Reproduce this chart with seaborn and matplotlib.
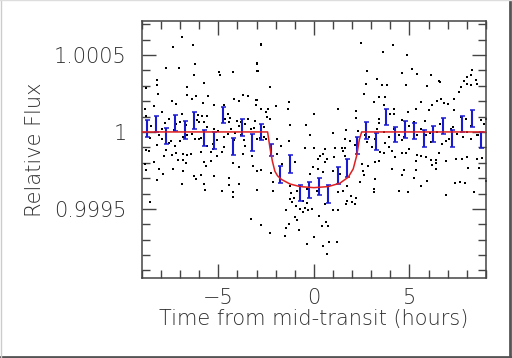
import matplotlib
matplotlib.use("Agg")
import matplotlib.pyplot as plt
import seaborn as sns
from matplotlib.ticker import FixedLocator, MultipleLocator
from matplotlib.lines import Line2D

# individual photometry points: time (hours) and flux offset (ppm)
dot_t = [
    # upper left
    -6.89, -6.30, -7.36, -7.71, -7.05, -6.21, -4.95, -4.22, -6.28, -4.91, -5.74, -8.18, -8.18, -8.76,
    -6.65, -8.15, -6.66, -6.18, -5.53, -3.73, -3.42, -6.38, -7.40, -4.17, -3.04, -5.80, -7.19, -5.21,
    -8.38, -4.68, -3.90, -3.04, -4.47, -8.86, -8.76, -7.92, -7.57, -6.91, -6.04, -5.84, -5.58, -5.75,
    -6.01, -4.65, -4.44, -4.00, -3.79, -3.60, -3.44, -7.00, -7.22, -8.27, -7.96, -5.21, -4.32, -3.12,
    -4.47, -3.79, -6.66, -6.87, -8.56, -7.96, -7.48, -6.21, -6.01, -5.05, -4.17, -3.65, -2.95, -8.18,
    -7.27, -5.61, -5.28, -4.68, -7.75, -8.79, -2.79, -2.97, -2.97,
    # near the line, left
    -8.50, -8.10, -7.80, -7.60, -7.30, -7.00, -6.70, -6.40, -6.10, -5.90, -5.60, -5.30, -5.00, -4.70,
    -4.40, -4.10, -3.90, -3.60, -3.30, -3.10, -2.80, -2.60,
    # lower left
    -8.65, -7.83, -7.40, -7.23, -6.87, -6.66, -6.44, -5.92, -5.39, -5.09, -4.78, -3.73, -3.21, -8.34,
    -7.13, -6.87, -6.70, -5.74, -5.39, -5.65, -4.25, -3.93, -3.16, -8.83, -8.80, -8.10, -7.88, -7.36,
    -6.87, -6.26, -6.14, -5.91, -5.74, -5.21, -4.42, -4.45, -3.89, -8.18, -6.91, -5.69, -4.82, -4.22,
    -4.22, -2.95, -8.58, -3.28, -2.79,
    # in transit, upper
    -2.74, 2.45, -2.96, -2.91, -2.27, 2.76, 2.73, -1.29, 2.63, -2.96, -2.74, -2.39, -2.51, -2.00,
    -1.34, 0.00, 1.27, 2.23, 2.23, -2.44, -2.27, -1.25, -0.42, 1.01, 1.68, 2.32, 2.67, -2.62,
    -2.51, -1.95, -1.29, -0.21, 1.62, 1.88, 2.76, -1.74, -0.47, 0.00, 0.58, 1.10, 1.45, 1.62,
    2.15, 3.02,
    # in transit, lower
    -2.27, -2.96, -2.74, -2.22, -2.13, -2.16, -1.95, -1.69, -0.99, -1.25, -1.13, -1.46, -1.29, -1.46,
    -1.52, -0.99, -0.87, -0.77, -0.96, -0.73, -0.47, -0.30, -0.12, -0.38, -0.56, -0.38, -0.21, -0.03,
    0.23, 0.23, 0.49, 0.14, 0.58, 0.28, 0.63, 0.40, 0.72, 0.00, -0.38, 0.49, 0.80, 1.19,
    0.70, 0.98, 1.24, 1.24, 1.54, 1.71, 1.92, 2.20, 1.97, 2.15, 1.68, 1.71, 1.36, 1.05,
    1.50, 1.62, 0.49, 0.58, 0.70, 0.32, 1.01, 2.50, 2.58, 2.64, 2.85, 2.44, -1.17, -0.90,
    -1.25, -0.56, -1.04,
    # upper right
    4.14, 3.63, 4.89, 3.28, 4.63, 5.12, 5.38, 6.11, 6.54, 6.60, 5.90, 4.80, 3.58, 3.84,
    3.14, 3.40, 3.70, 3.67, 4.19, 4.00, 4.20, 3.40, 4.63, 4.90, 5.33, 5.59, 6.03, 6.20,
    6.46, 6.63, 6.81, 7.00, 7.33, 7.59, 7.68, 7.85, 7.99, 8.20, 8.29, 8.50, 8.55, 8.03,
    8.20, 7.33, 7.68, 7.94, 8.29, 8.72, 8.90, 8.99, 5.24, 5.59, 5.85, 6.46, 7.16, 7.50,
    8.03, 8.55, 4.72, 4.45, 3.93, 3.67, 3.32, 3.18, 8.20, 7.07, 6.11, 6.72, 4.98, 3.93,
    8.72,
    # near the line, right
    2.90, 3.40, 3.70, 4.20, 4.60, 5.00, 5.40, 5.80, 6.10, 6.60, 6.90, 7.30, 7.80, 8.20, 8.60,
    # lower right
    3.46, 3.67, 4.10, 4.63, 4.80, 5.41, 5.59, 5.85, 6.11, 6.37, 6.55, 6.90, 7.42, 7.77,
    8.03, 8.55, 8.81, 3.20, 3.42, 4.27, 6.37, 6.20, 5.33, 4.10, 4.71, 4.62, 5.33, 6.37,
    8.06, 8.63, 3.22, 5.24, 5.93, 3.15, 3.15, 4.45, 4.93, 5.63, 7.38, 7.64, 7.90, 9.00,
    8.40, 6.90,
]
dot_ppm = [
    614, 562, 552, 417, 417, 439, 389, 389, 368, 368, 318, 335, 303, 286,
    292, 249, 242, 234, 234, 238, 234, 212, 201, 212, 206, 188, 184, 173,
    167, 173, 203, 173, 119, 151, 102, 130, 86, 119, 112, 104, 104, 65,
    65, 86, 65, 73, 65, 54, 86, 65, 54, 22, 22, 22, 17, 26,
    -11, -22, -22, -32, -39, -48, -56, -43, -43, -54, -54, -54, -48, -82,
    -93, -93, -108, -95, -119, -115, 569, 450, 396,
    40, -20, 60, -70, 10, -60, 45, -15, 80, -40, 30, -80, 5, -30,
    90, -10, 40, -90, 20, 70, -40, 30,
    -121, -154, -149, -134, -143, -149, -143, -128, -128, -154, -132, -143, -154, -193,
    -180, -180, -201, -193, -186, -219, -201, -229, -219, -206, -249, -242, -270, -242,
    -255, -286, -307, -277, -335, -286, -299, -342, -335, -312, -335, -377, -381, -387,
    -424, -377, -456, -565, -604,
    567, 576, 443, 396, 292, 396, 314, 194, 249, 210, 147, 147, 130, 167,
    147, 119, 147, 136, 93, 97, 86, 43, 43, -4, 11, 9, -22, -32,
    -43, -48, -58, -22, -48, -58, -65, -91, -104, -102, -108, -102, -104, -104,
    -87, -97,
    -655, -251, -245, -266, -327, -381, -143, -208, -197, -435, -452, -504, -597, -625,
    -673, -554, -575, -640, -478, -500, -493, -506, -500, -461, -446, -370, -273, -229,
    -175, -240, -262, -381, -467, -547, -582, -612, -612, -684, -727, -744, -712, -716,
    -792, -510, -510, -391, -381, -353, -413, -430, -456, -467, -467, -446, -273, -164,
    -121, -154, -143, -197, -175, -154, -251, -208, -251, -279, -219, -322, -396, -381,
    -349, -521, -431,
    563, 519, 498, 346, 383, 407, 374, 372, 329, 325, 297, 303, 307, 307,
    195, 227, 227, 173, 147, 119, 115, 86, 76, 130, 151, 195, 141, 173,
    199, 217, 190, 184, 212, 260, 292, 329, 357, 368, 400, 335, 314, 314,
    307, 141, 97, 86, 76, 76, 54, 86, 65, 22, -22, 0, 22, -11,
    0, -22, -32, -22, -32, 0, 22, -43, -43, -43, -65, -76, -108, -97,
    -87,
    -30, 60, -70, 20, -50, 40, -20, 70, -10, 50, -60, 30, -30, 40, -20,
    -128, -134, -121, -134, -134, -147, -156, -162, -184, -184, -134, -190, -177, -177,
    -162, -177, -171, -193, -188, -162, -205, -212, -188, -242, -249, -277, -249, -240,
    -236, -236, -303, -296, -318, -370, -392, -381, -387, -353, -331, -322, -331, -316,
    -392, -407,
]

# half-hour bins with error bars (ppm)
bin_t = [-8.75, -8.25, -7.75, -7.25, -6.75, -6.25, -5.75, -5.25, -4.75, -4.25, -3.75, -3.25,
         -2.75, -2.25, -1.75, -1.25, -0.75, -0.25, 0.25, 0.75, 1.25, 1.75, 2.25, 2.75,
         3.25, 3.75, 4.25, 4.75, 5.25, 5.75, 6.25, 6.75, 7.25, 7.75, 8.25, 8.75]
bin_ppm = [20, 54, -28, 58, 13, 74, -41, -56, 110, -93, 28, -71,
           0, -117, -279, -208, -396, -377, -353, -403, -281, -234, -87, 11,
           -63, 95, -17, 17, 6, -43, -13, 39, -41, 52, 89, -50]
bin_err = [55, 52, 52, 52, 56, 55, 52, 55, 52, 56, 54, 56,
           54, 40, 55, 56, 52, 53, 56, 56, 56, 56, 54, 56,
           55, 53, 51, 54, 54, 54, 52, 54, 54, 52, 54, 52]

# transit model
model_t = [-9.0, -2.42, -2.30, -2.17, -2.04, -1.90, -1.69, -1.25, -0.73, 0.0,
           0.75, 1.36, 1.80, 2.06, 2.24, 2.38, 2.50, 9.0]
model_ppm = [0, 0, -100, -190, -255, -285, -309, -338, -355, -362,
             -355, -333, -294, -240, -154, -50, 0, 0]

sns.set_style("ticks")
plt.rcParams['font.family'] = ['DejaVu Sans']
text_col = '#2e2e2e'

dot_flux = [1 + v * 1e-6 for v in dot_ppm]
bin_flux = [1 + v * 1e-6 for v in bin_ppm]
bin_yerr = [v * 1e-6 for v in bin_err]
model_flux = [1 + v * 1e-6 for v in model_ppm]

fig = plt.figure(figsize=(5.12, 3.58), dpi=100)
ax = fig.add_axes([0.277, 0.223, 0.672, 0.718])

sns.scatterplot(x=dot_t, y=dot_flux, s=2.5, color='black', marker='s', linewidth=0, ax=ax, zorder=1)
ax.errorbar(bin_t, bin_flux, yerr=bin_yerr, fmt='none', ecolor='#1a1ad0',
            elinewidth=1.5, capsize=1.8, capthick=1.1, zorder=2)
sns.lineplot(x=model_t, y=model_flux, color='#e02020', lw=1.1, ax=ax, zorder=3)

ax.set_xlim(-9, 9)
ax.set_ylim(0.99905, 1.00072)
ax.xaxis.set_major_locator(FixedLocator([-5, 0, 5]))
ax.xaxis.set_minor_locator(MultipleLocator(1))
ax.yaxis.set_major_locator(FixedLocator([0.9995, 1.0, 1.0005]))
ax.yaxis.set_minor_locator(MultipleLocator(0.0001))
ax.set_xticklabels(['\u22125', '0', '5'])
ax.set_yticklabels(['0.9995', '1', '1.0005'])

ax.tick_params(which='both', direction='in', top=True, right=True, colors='#444444',
               labelcolor=text_col, labelsize=15)
ax.tick_params(which='major', length=10, width=1)
ax.tick_params(which='minor', length=6, width=1)
ax.tick_params(axis='x', pad=7)
ax.tick_params(axis='y', pad=11)
for lab in ax.get_xticklabels() + ax.get_yticklabels():
    lab.set_fontweight('light')
for sp in ax.spines.values():
    sp.set_color('#444444')
    sp.set_linewidth(1.1)

ax.set_xlabel('Time from mid-transit (hours)', fontsize=15, color=text_col,
              labelpad=1, fontweight='light')
ax.set_ylabel('Relative Flux', fontsize=15, color=text_col, labelpad=6, fontweight='light')

# picture frame
fig.add_artist(Line2D([0.997, 0.997], [0.0, 1.0], color='#555555', lw=2))
fig.add_artist(Line2D([0.0, 1.0], [0.004, 0.004], color='#555555', lw=2))
fig.add_artist(Line2D([0.001, 0.001], [0.0, 1.0], color='#cccccc', lw=1))
fig.add_artist(Line2D([0.0, 1.0], [0.999, 0.999], color='#dddddd', lw=1))

fig.savefig('out.png', dpi=100)
